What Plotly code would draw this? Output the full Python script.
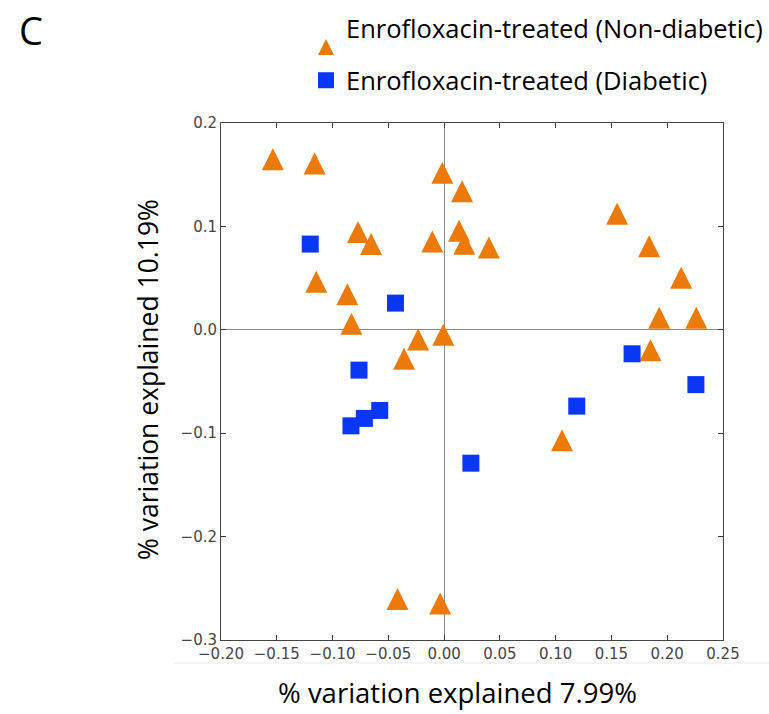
import plotly.graph_objects as go

# ---- data ----
nondiab_x = [-0.1535, -0.1161, -0.0016, 0.0161, -0.0772, -0.0655, -0.0106, 0.0134, 0.0181, 0.0401,
             -0.1146, -0.0867, -0.0831, -0.0233, -0.0007, -0.0359, 0.1551, 0.1838, 0.2125, 0.1928,
             0.2260, 0.1850, 0.1057, -0.0418, -0.0036]
nondiab_y = [0.1650, 0.1608, 0.1518, 0.1340, 0.0945, 0.0829, 0.0855, 0.0958, 0.0831, 0.0795,
             0.0464, 0.0343, 0.0058, -0.0095, -0.0049, -0.0281, 0.1122, 0.0808, 0.0503, 0.0116,
             0.0116, -0.0198, -0.1067, -0.2603, -0.2647]

diab_x = [-0.1200, -0.0436, -0.0763, -0.0835, -0.0715, -0.0577, 0.0240, 0.1189, 0.2257, 0.1685]
diab_y = [0.0829, 0.0258, -0.0390, -0.0929, -0.0857, -0.0780, -0.1290, -0.0738, -0.0530, -0.0232]

series_names = ["Enrofloxacin-treated (Non-diabetic)", "Enrofloxacin-treated (Diabetic)"]

x_tickvals = [-0.20, -0.15, -0.10, -0.05, 0.00, 0.05, 0.10, 0.15, 0.20, 0.25]
x_ticktext = ["\u22120.20", "\u22120.15", "\u22120.10", "\u22120.05", "0.00", "0.05", "0.10", "0.15", "0.20", "0.25"]
y_tickvals = [-0.3, -0.2, -0.1, 0.0, 0.1, 0.2]
y_ticktext = ["\u22120.3", "\u22120.2", "\u22120.1", "0.0", "0.1", "0.2"]

x_title = "% variation explained 7.99%"
y_title = "% variation explained 10.19%"
panel_label = "C"

ORANGE = "#EC7A0A"
BLUE = "#0A37F5"
TITLE_FONT = "Open Sans"
TRI_SIZE = 22

fig = go.Figure()
fig.add_trace(go.Scatter(
    x=nondiab_x, y=nondiab_y, mode="markers", name=series_names[0], legendgroup="a",
    marker=dict(symbol="arrow-down", angle=180, standoff=TRI_SIZE / 2, size=TRI_SIZE,
                color=ORANGE, line=dict(width=0)),
))
fig.add_trace(go.Scatter(
    x=diab_x, y=diab_y, mode="markers", name=series_names[1], legendgroup="b",
    marker=dict(symbol="square", size=17, color=BLUE, line=dict(width=0)),
))

axis_common = dict(
    ticks="inside", ticklen=5, tickwidth=1, tickcolor="#333",
    showline=True, linecolor="#444", linewidth=1, mirror="ticks",
    showgrid=False, zeroline=True, zerolinecolor="#8a8a8a", zerolinewidth=1,
    tickfont=dict(family="DejaVu Sans", size=15, color="#444"),
    tickmode="array",
)
fig.update_xaxes(range=[-0.20, 0.25], tickvals=x_tickvals, ticktext=x_ticktext, **axis_common)
fig.update_yaxes(range=[-0.30, 0.20], tickvals=y_tickvals, ticktext=y_ticktext, **axis_common)

fig.update_layout(
    width=769, height=714,
    margin=dict(l=221, r=46, t=123, b=74, autoexpand=False),
    paper_bgcolor="white", plot_bgcolor="white",
    showlegend=True,
    legend=dict(
        x=(306 - 221) / 502, xanchor="left",
        yref="container", y=1 - 5 / 714, yanchor="top",
        font=dict(family=TITLE_FONT, size=25.5, color="black"),
        tracegroupgap=16, bgcolor="rgba(0,0,0,0)", itemsizing="trace",
    ),
    annotations=[
        dict(text=panel_label, xref="paper", yref="paper",
             x=(31 - 221) / 502, y=1 + (123 - 30) / 517, xanchor="center", yanchor="middle",
             showarrow=False, font=dict(family=TITLE_FONT, size=38, color="black")),
        dict(text=x_title, xref="paper", yref="paper",
             x=(457 - 221) / 502, y=(640 - 692) / 517, xanchor="center", yanchor="middle",
             showarrow=False, font=dict(family=TITLE_FONT, size=27.5, color="black")),
        dict(text=y_title, xref="paper", yref="paper", textangle=-90,
             x=(148 - 221) / 502, y=(640 - 380) / 517, xanchor="center", yanchor="middle",
             showarrow=False, font=dict(family=TITLE_FONT, size=26.5, color="black")),
    ],
    shapes=[
        dict(type="line", xref="paper", yref="paper",
             x0=(173 - 221) / 502, x1=(769 - 221) / 502,
             y0=(640 - 663) / 517, y1=(640 - 663) / 517,
             line=dict(color="#ebebeb", width=1)),
    ],
)

fig.write_html("out.html")
